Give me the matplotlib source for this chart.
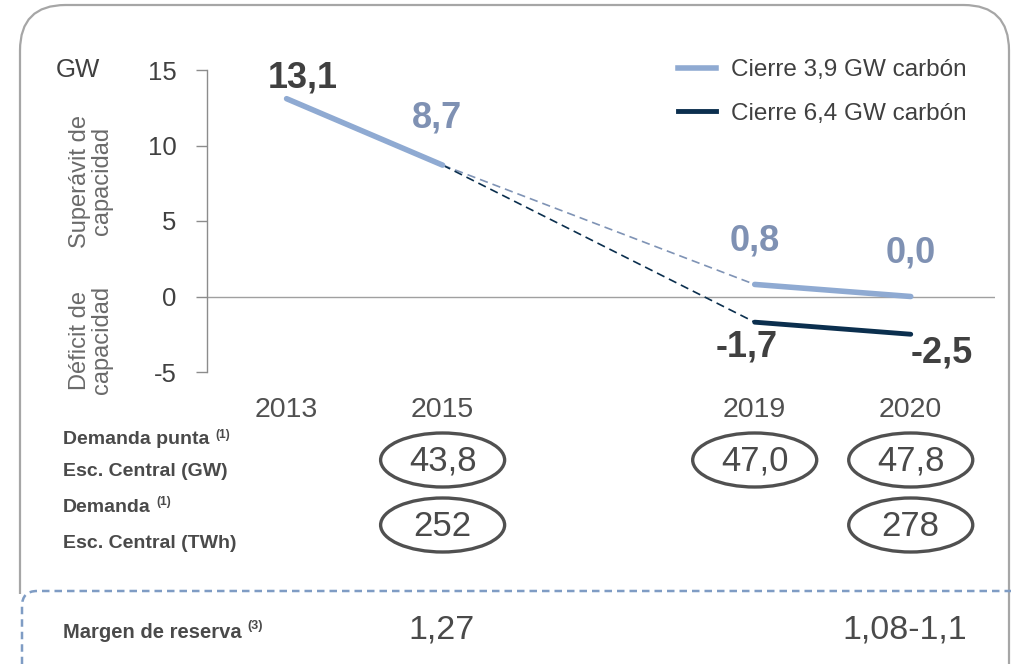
import matplotlib
matplotlib.use("Agg")
import matplotlib.pyplot as plt
from matplotlib.patches import Ellipse, FancyBboxPatch
from matplotlib.lines import Line2D
from matplotlib.transforms import blended_transform_factory

# ---------------------------------------------------------------------------
# Data
# ---------------------------------------------------------------------------
YEARS = ["2013", "2015", "2019", "2020"]
SLOT = [0, 1, 3, 4]                        # horizontal slot of each year
CLOSE_39 = [13.1, 8.7, 0.8, 0.0]           # Cierre 3,9 GW carbón
CLOSE_64 = [None, 8.7, -1.7, -2.5]         # Cierre 6,4 GW carbón
PEAK_GW = {"2015": "43,8", "2019": "47,0", "2020": "47,8"}
DEMAND_TWH = {"2015": "252", "2020": "278"}
RESERVE = {"2015": "1,27", "2020": "1,08-1,1"}

LIGHT = "#8FAAD2"
LIGHT_TXT = "#7F91B3"
DARK = "#0B2F4E"
GREY_TXT = "#404040"
ROW_TXT = "#4A4A4A"

plt.rcParams["font.family"] = ["Liberation Sans", "DejaVu Sans"]

W, H = 1011, 664
fig = plt.figure(figsize=(W / 100, H / 100), dpi=100)
fig.patch.set_facecolor("white")


def fx(px):
    return px / W


def fy(py):
    return 1 - py / H


ax = fig.add_axes([fx(207), fy(372), fx(995) - fx(207), fy(70) - fy(372)])
ax.set_ylim(-5, 15)
ax.set_xlim(-0.51, 4.54)
for s in ("top", "right", "bottom"):
    ax.spines[s].set_visible(False)
ax.spines["left"].set_color("#8C8C8C")
ax.spines["left"].set_linewidth(1.0)
ax.axhline(0, color="#A0A0A0", lw=1.0, zorder=1)
ax.set_yticks([-5, 0, 5, 10, 15])
ax.set_yticklabels(["-5", "0", "5", "10", "15"])
ax.tick_params(axis="y", length=8, width=1, color="#8C8C8C", pad=14,
               labelsize=18.5, labelcolor=GREY_TXT)
ax.set_xticks(SLOT)
ax.set_xticklabels(YEARS)
ax.tick_params(axis="x", length=0, pad=18, labelsize=20.5, labelcolor="#505050")

x = SLOT
# solid segments
ax.plot(x[0:2], CLOSE_39[0:2], color=LIGHT, lw=4, solid_capstyle="round", zorder=3)
ax.plot(x[2:4], CLOSE_39[2:4], color=LIGHT, lw=4, solid_capstyle="round", zorder=3)
ax.plot(x[2:4], CLOSE_64[2:4], color=DARK, lw=3.5, solid_capstyle="round", zorder=3)
# projected (dashed) segments
ax.plot(x[1:3], CLOSE_39[1:3], color="#7F93B5", lw=1.2, ls=(0, (5, 3)), zorder=2)
ax.plot(x[1:3], CLOSE_64[1:3], color=DARK, lw=1.2, ls=(0, (5, 3)), zorder=2)

# value labels
lab_kw = dict(textcoords="offset points", ha="center", fontsize=26,
              fontweight="bold")
ax.annotate("13,1", (x[0], CLOSE_39[0]), xytext=(12, 2), va="bottom",
            color=GREY_TXT, **lab_kw)
ax.annotate("8,7", (x[1], CLOSE_39[1]), xytext=(-4, 21), va="bottom",
            color=LIGHT_TXT, **lab_kw)
ax.annotate("0,8", (x[2], CLOSE_39[2]), xytext=(0, 19), va="bottom",
            color=LIGHT_TXT, **lab_kw)
ax.annotate("0,0", (x[3], CLOSE_39[3]), xytext=(0, 19), va="bottom",
            color=LIGHT_TXT, **lab_kw)
ax.annotate("-1,7", (x[2], CLOSE_64[2]), xytext=(-6, -5), va="top",
            color=GREY_TXT, **lab_kw)
ax.annotate("-2,5", (x[3], CLOSE_64[3]), xytext=(22, -1), va="top",
            color=GREY_TXT, **lab_kw)

# legend
handles = [Line2D([], [], color=LIGHT, lw=4),
           Line2D([], [], color=DARK, lw=3.5)]
ax.legend(handles, ["Cierre 3,9 GW carbón", "Cierre 6,4 GW carbón"],
          loc="upper left", bbox_to_anchor=(fx(678), fy(59)),
          bbox_transform=fig.transFigure, frameon=False, fontsize=17.5,
          handlelength=1.55, handletextpad=0.65, labelspacing=0.9,
          borderpad=0, borderaxespad=0, labelcolor=GREY_TXT)

# axis side captions
fig.text(fx(78), fy(58), "GW", fontsize=18.5, color=GREY_TXT, ha="center", va="top")
fig.text(fx(91), fy(181), "Superávit de\ncapacidad", rotation=90, fontsize=17,
         color="#6A6A6A", ha="center", va="center", linespacing=1.0)
fig.text(fx(91), fy(340), "Déficit de\ncapacidad", rotation=90, fontsize=17,
         color="#6A6A6A", ha="center", va="center", linespacing=1.0)

# ---------------------------------------------------------------------------
# Table rows under the chart
# ---------------------------------------------------------------------------
row = blended_transform_factory(ax.transData, fig.transFigure)
slot_of = dict(zip(YEARS, SLOT))


def row_label(x_px, y_px, txt, note=None, size=14):
    t = fig.text(fx(x_px), fy(y_px), txt, fontsize=size, fontweight="bold",
                 color=ROW_TXT, ha="left", va="center")
    if note:
        # small footnote marker hung off the label's top-right corner
        ax.annotate(note, xy=(1, 1), xycoords=t, xytext=(4, 2),
                    textcoords="offset points", ha="left", va="top",
                    fontsize=size * 0.62, fontweight="bold", color=ROW_TXT,
                    annotation_clip=False)
    return t


row_label(63, 440, "Demanda punta", "(1)")
row_label(63, 472, "Esc. Central (GW)")
row_label(63, 507, "Demanda", "(1)")
row_label(63, 543, "Esc. Central (TWh)")
row_label(63, 632, "Margen de reserva", "(3)", size=14.5)


def circled(values, y_px):
    for yr, txt in values.items():
        xs = slot_of[yr]
        ax.add_patch(Ellipse((xs, fy(y_px)), width=124 / 156, height=54 / H,
                             transform=row, fill=False, edgecolor="#505050",
                             lw=2.4, clip_on=False))
        ax.text(xs, fy(y_px + 1), txt, transform=row, ha="center", va="center",
                fontsize=25, color=ROW_TXT, clip_on=False)


circled(PEAK_GW, 460)
circled(DEMAND_TWH, 525)

for yr, txt in RESERVE.items():
    xs = slot_of[yr] - (0.04 if yr == "2020" else 0.01)
    ax.text(xs, fy(630), txt, transform=row, ha="center", va="center",
            fontsize=24.5, color=ROW_TXT, clip_on=False)

# ---------------------------------------------------------------------------
# Frames
# ---------------------------------------------------------------------------
fig.patches.append(FancyBboxPatch(
    (fx(20), fy(720)), fx(1009) - fx(20), fy(5) - fy(720),
    boxstyle="round,pad=0,rounding_size=0.045", transform=fig.transFigure,
    fill=False, edgecolor="#A6A6A6", lw=1.6, zorder=0, mutation_aspect=W / H))
# white gap so the outer frame stops where the dashed box begins
fig.patches.append(FancyBboxPatch(
    (fx(10), fy(700)), fx(40) - fx(10), fy(594) - fy(700),
    boxstyle="square,pad=0", transform=fig.transFigure,
    facecolor="white", edgecolor="none", zorder=0.5))
fig.patches.append(FancyBboxPatch(
    (fx(22), fy(700)), fx(1040) - fx(22), fy(591) - fy(700),
    boxstyle="round,pad=0,rounding_size=0.015", transform=fig.transFigure,
    fill=False, edgecolor="#7F9CC4", lw=1.8, ls=(0, (3, 2)), zorder=1,
    mutation_aspect=W / H))

fig.savefig("out.png", dpi=100)
